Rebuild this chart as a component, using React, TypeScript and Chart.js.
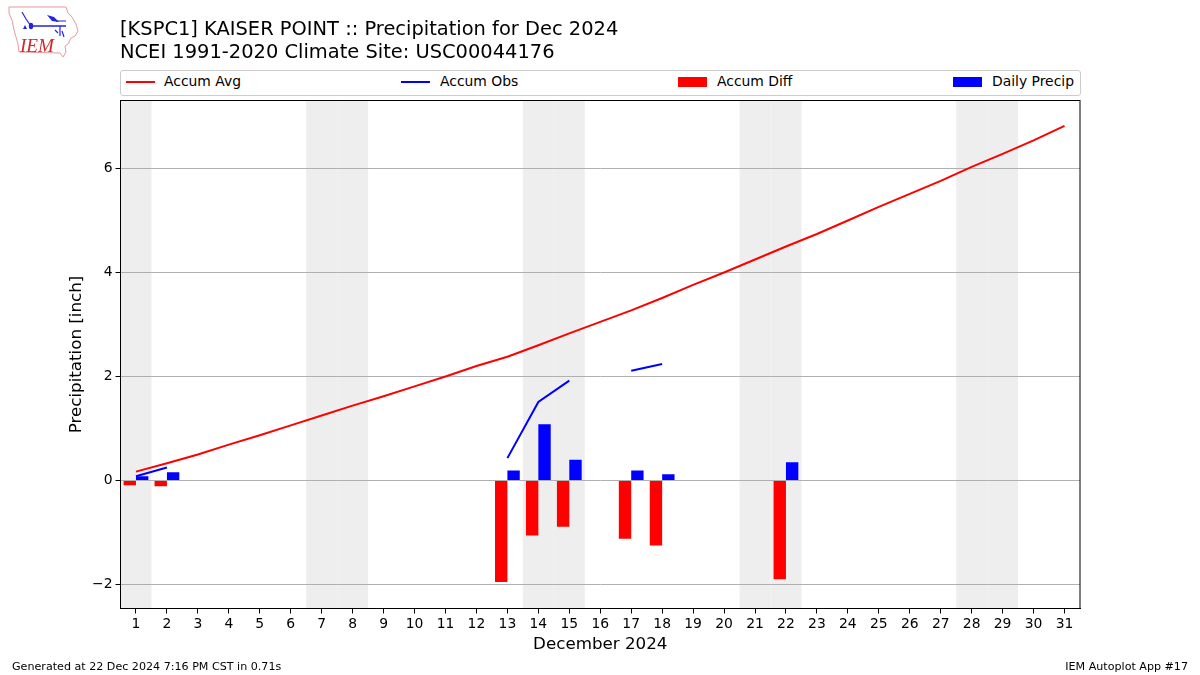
import React, { useEffect, useRef } from "react";
import { Chart, registerables } from "chart.js";

Chart.register(...registerables);

const days = Array.from({ length: 31 }, (_, i) => String(i + 1));
const accumAvg = [0.17, 0.33, 0.5, 0.69, 0.87, 1.06, 1.25, 1.44, 1.62, 1.81, 2.0, 2.2, 2.38, 2.6, 2.83, 3.05, 3.27, 3.51, 3.76, 4.0, 4.25, 4.5, 4.74, 5.0, 5.26, 5.51, 5.76, 6.03, 6.28, 6.54, 6.82];
const accumObs = [0.08, 0.25, null, null, null, null, null, null, null, null, null, null, 0.43, 1.51, 1.92, null, 2.11, 2.24, null, null, null, null, null, null, null, null, null, null, null, null, null];
const accumDiff = [-0.09, -0.11, null, null, null, null, null, null, null, null, null, null, -1.95, -1.06, -0.89, null, -1.12, -1.25, null, null, null, -1.9, null, null, null, null, null, null, null, null, null];
const dailyPrecip = [0.08, 0.16, null, null, null, null, null, null, null, null, null, null, 0.19, 1.08, 0.4, null, 0.19, 0.12, null, null, null, 0.35, null, null, null, null, null, null, null, null, null];
const weekendDays = ["1", "7", "8", "14", "15", "21", "22", "28", "29"];
const yTicks = [-2, 0, 2, 4, 6];

const titleLines = ["[KSPC1] KAISER POINT :: Precipitation for Dec 2024", "NCEI 1991-2020 Climate Site: USC00044176"];
const footerLeft = "Generated at 22 Dec 2024 7:16 PM CST in 0.71s";
const footerRight = "IEM Autoplot App #17";

const FONT = '"DejaVu Sans", sans-serif';

const bandsPlugin = {
  id: "bands",
  beforeDraw(chart: any) {
    const { ctx, chartArea, scales } = chart;
    const x = scales.x;
    const half = x.width / days.length / 2;
    ctx.save();
    ctx.beginPath();
    ctx.rect(chartArea.left, chartArea.top, chartArea.width, chartArea.height);
    ctx.clip();
    ctx.fillStyle = "#eeeeee";
    weekendDays.forEach((d) => {
      const c = x.getPixelForValue(days.indexOf(d));
      ctx.fillRect(c - half, chartArea.top, half * 2, chartArea.height);
    });
    ctx.restore();
  },
};

const framePlugin = {
  id: "frame",
  afterDraw(chart: any) {
    const { ctx, chartArea } = chart;
    ctx.save();
    ctx.strokeStyle = "#000";
    ctx.lineWidth = 1;
    ctx.strokeRect(chartArea.left, chartArea.top, chartArea.width, chartArea.height);
    ctx.restore();
  },
};

const legendItems = [
  { label: "Accum Avg", color: "#ff0000", kind: "line", x: 126, tx: 164 },
  { label: "Accum Obs", color: "#0000ff", kind: "line", x: 401, tx: 440 },
  { label: "Accum Diff", color: "#ff0000", kind: "bar", x: 678, tx: 717 },
  { label: "Daily Precip", color: "#0000ff", kind: "bar", x: 953, tx: 992 },
];

function Logo() {
  return (
    <svg width="90" height="60" viewBox="0 0 90 60" style={{ position: "absolute", left: 0, top: 0 }}>
      <path d="M9,7 L66,7 L68,13 L72,17 L76,24 L78,31 L75,36 L71,38 L68,44 L65,46 L66,52 L63,57 L60,53 L19,52 L18,44 L14,30 L12,20 L9,13 Z" fill="#fff" stroke="#e79a9a" strokeWidth="1" />
      <path d="M22,12 L26,19 L31,26" stroke="#2424d8" strokeWidth="1.2" fill="none" />
      <path d="M31,26 L66,26" stroke="#2424d8" strokeWidth="1.6" fill="none" />
      <ellipse cx="31" cy="26" rx="2.2" ry="3.2" fill="#2424d8" />
      <path d="M47,15 L54,17 L59,22 L52,21 Z" fill="#2424d8" />
      <path d="M56,21 L66,21 M60,26 L60,36 M55,30 L58,33 M62,31 L64,37" stroke="#2424d8" strokeWidth="1.2" fill="none" />
      <path d="M23,29 L25,25 L27,29 Z" fill="#2424d8" />
      <text x="20" y="52" fontFamily="'Liberation Serif', serif" fontStyle="italic" fontSize="19" textLength="34" lengthAdjust="spacingAndGlyphs" fill="#d8232a">IEM</text>
    </svg>
  );
}

export default function App() {
  const ref = useRef<HTMLCanvasElement>(null);

  useEffect(() => {
    const chart = new Chart(ref.current as HTMLCanvasElement, {
      type: "bar",
      data: {
        labels: days,
        datasets: [
          { type: "line", label: "Accum Avg", data: accumAvg, borderColor: "#ff0000", borderWidth: 2, pointRadius: 0, tension: 0, fill: false, order: 1 },
          { type: "line", label: "Accum Obs", data: accumObs, borderColor: "#0000ff", borderWidth: 2, pointRadius: 0, tension: 0, fill: false, spanGaps: false, order: 1 },
          { type: "bar", label: "Accum Diff", data: accumDiff, backgroundColor: "#ff0000", barPercentage: 1, categoryPercentage: 0.8, order: 2 },
          { type: "bar", label: "Daily Precip", data: dailyPrecip, backgroundColor: "#0000ff", barPercentage: 1, categoryPercentage: 0.8, order: 3 },
        ],
      } as any,
      options: {
        responsive: false,
        animation: false,
        devicePixelRatio: 1,
        layout: { padding: { left: 0, right: 120, top: 100.5, bottom: 0 } },
        plugins: { legend: { display: false }, title: { display: false }, tooltip: { enabled: false } },
        scales: {
          x: {
            type: "category",
            offset: true,
            grid: { color: "transparent", tickColor: "#000", tickLength: 5, offset: false, drawOnChartArea: false },
            border: { color: "#000", width: 1 },
            ticks: { color: "#000", font: { family: FONT, size: 13.9 }, autoSkip: false, maxRotation: 0, padding: 3 },
            title: { display: true, text: "December 2024", color: "#000", font: { family: FONT, size: 16.7 }, padding: { top: 4, bottom: 20 } },
            afterFit(s: any) { s.height = 66.5; },
          },
          y: {
            type: "linear",
            min: -2.462,
            max: 7.307,
            afterBuildTicks(s: any) { s.ticks = yTicks.map((value) => ({ value })); },
            grid: { color: "#b0b0b0", lineWidth: 1, tickColor: "#000", tickLength: 5 },
            border: { color: "#000", width: 1 },
            ticks: { color: "#000", font: { family: FONT, size: 13.9 }, padding: 3, callback: (v: any) => String(v).replace("-", "\u2212") },
            title: { display: true, text: "Precipitation [inch]", color: "#000", font: { family: FONT, size: 16.7 }, padding: { top: 67, bottom: 4 } },
            afterFit(s: any) { s.width = 120.5; },
          },
        },
      } as any,
      plugins: [bandsPlugin, framePlugin],
    });
    return () => chart.destroy();
  }, []);

  return (
    <div style={{ position: "absolute", left: 0, top: 0, width: 1200, height: 675, background: "#fff", overflow: "hidden", fontFamily: FONT, color: "#000" }}>
      <canvas ref={ref} width={1200} height={675} style={{ position: "absolute", left: 0, top: 0, display: "block" }} />
      <Logo />
      <div style={{ position: "absolute", left: 120, top: 17, fontSize: 19.44, lineHeight: "23px", whiteSpace: "pre" }}>
        {titleLines.map((t) => <div key={t}>{t}</div>)}
      </div>
      <div style={{ position: "absolute", left: 120, top: 70, width: 959, height: 24, border: "1px solid #cccccc", borderRadius: 3, boxSizing: "content-box", background: "#fff" }} />
      {legendItems.map((it) => (
        <React.Fragment key={it.label}>
          <div style={{ position: "absolute", left: it.x, width: 29, top: it.kind === "line" ? 81 : 77, height: it.kind === "line" ? 2 : 10, background: it.color }} />
          <div style={{ position: "absolute", left: it.tx, top: 73, fontSize: 13.9, lineHeight: "17px", whiteSpace: "pre" }}>{it.label}</div>
        </React.Fragment>
      ))}
      <div style={{ position: "absolute", left: 12, top: 660, fontSize: 11.12, lineHeight: "13px", whiteSpace: "pre" }}>{footerLeft}</div>
      <div style={{ position: "absolute", right: 12, top: 660, fontSize: 11.12, lineHeight: "13px", whiteSpace: "pre" }}>{footerRight}</div>
    </div>
  );
}
